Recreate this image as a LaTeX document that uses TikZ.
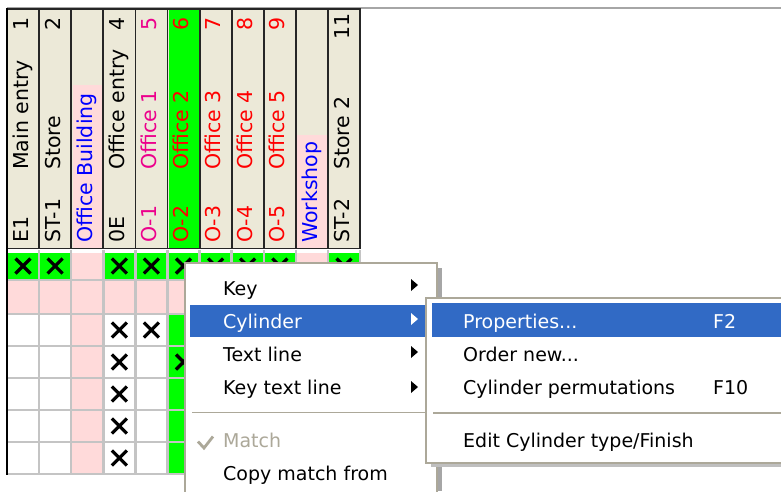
\documentclass[tikz,border=0pt]{standalone}
\usepackage{fontspec}
\setmainfont{DejaVu Sans}
\usetikzlibrary{positioning}

\definecolor{hdrbeige}{HTML}{ECE9D8}
\definecolor{cellgreen}{HTML}{00FF00}
\definecolor{cellpink}{HTML}{FFDADA}
\definecolor{gridgray}{HTML}{C4C4C4}
\definecolor{menublue}{HTML}{316AC5}
\definecolor{menuframe}{HTML}{ACA899}
\definecolor{disgray}{HTML}{ACA899}

\newcommand{\hdrfont}{\fontsize{20.5}{24}\selectfont}
\newcommand{\menufont}{\fontsize{19}{22}\selectfont}

\begin{document}
\begin{tikzpicture}
	\begin{scope}[x=1pt, y=-1pt]
		\tikzstyle{every node}=[inner sep=0pt]
		\tikzstyle{hdr}=[rotate=90, text height=0.72em, text depth=0.2em, font=\hdrfont]
		\tikzstyle{item}=[anchor=base west, font=\menufont]
		\tikzstyle{xmark}=[line width=3.2pt]
		\tikzstyle{grid}=[gridgray, line width=2.5pt]
		\tikzstyle{menubox}=[fill=white, draw=menuframe, line width=1.5pt]

		\useasboundingbox (0,0) rectangle (781,491);
		\fill[white] (0,0) rectangle (781,491);

		% header row
		\draw[gray!70, line width=2pt] (7,8) -- (781,8);
		\foreach \k in {0,...,10} {
			\filldraw[fill=hdrbeige, draw=black!85, line width=1.8pt] ({7+32.1*\k},9) rectangle ({7+32.1*(\k+1)},248.5);
		}
		\fill[cellgreen] (168.8,10) rectangle (198.6,247.6);
		\fill[cellpink] (72.5,85) rectangle (102.3,247.6);
		\fill[cellpink] (297.2,135) rectangle (327,247.6);

		\node[hdr, anchor=west] (e1)    at (25.5,243)  {E1};
		\node[hdr, anchor=west] (main)  at (25.5,170)  {Main entry};
		\node[hdr, anchor=east] (n1)    at (25.5,17)   {1};

		\node[hdr, anchor=west] (st1)   at (57.6,243) {ST-1};
		\node[hdr, anchor=west] (store) at (57.6,170) {Store};
		\node[hdr, anchor=east] (n2)    at (57.6,17)  {2};

		\node[hdr, anchor=west, blue] (ob) at (89.7,243) {Office Building};

		\node[hdr, anchor=west] (oe)    at (121.8,243) {0E};
		\node[hdr, anchor=west] (oentr) at (121.8,170) {Office entry};
		\node[hdr, anchor=east] (n4)    at (121.8,17)  {4};

		\node[hdr, anchor=west, magenta] (o1)   at (153.9,243) {O-1};
		\node[hdr, anchor=west, magenta] (off1) at (153.9,170) {Office 1};
		\node[hdr, anchor=east, magenta] (n5)   at (153.9,17)  {5};

		\node[hdr, anchor=west, red] (o2)   at (186,243) {O-2};
		\node[hdr, anchor=west, red] (off2) at (186,170) {Office 2};
		\node[hdr, anchor=east, red] (n6)   at (186,17)  {6};

		\node[hdr, anchor=west, red] (o3)   at (218.1,243) {O-3};
		\node[hdr, anchor=west, red] (off3) at (218.1,170) {Office 3};
		\node[hdr, anchor=east, red] (n7)   at (218.1,17)  {7};

		\node[hdr, anchor=west, red] (o4)   at (250.2,243) {O-4};
		\node[hdr, anchor=west, red] (off4) at (250.2,170) {Office 4};
		\node[hdr, anchor=east, red] (n8)   at (250.2,17)  {8};

		\node[hdr, anchor=west, red] (o5)   at (282.3,243) {O-5};
		\node[hdr, anchor=west, red] (off5) at (282.3,170) {Office 5};
		\node[hdr, anchor=east, red] (n9)   at (282.3,17)  {9};

		\node[hdr, anchor=west, blue] (ws) at (314.4,243) {Workshop};

		\node[hdr, anchor=west] (st2)    at (346.5,243) {ST-2};
		\node[hdr, anchor=west] (store2) at (346.5,170) {Store 2};
		\node[hdr, anchor=east] (n11)    at (346.5,13)  {11};

		% cells
		\fill[cellgreen] (7,252.5) rectangle (360,280);
		\fill[cellpink] (71.2,252.5) rectangle (103.3,280);
		\fill[cellpink] (295.9,252.5) rectangle (328,280);
		\fill[cellpink] (7,280) rectangle (360,314);
		\fill[cellpink] (71.2,314) rectangle (103.3,474);
		\fill[cellgreen] (167.5,314) rectangle (199.6,474);
		\fill[cellpink] (295.9,314) rectangle (328,474);
		\foreach \k in {1,...,11} {
			\draw[grid] ({7+32.1*\k},250) -- ({7+32.1*\k},474);
		}
		\foreach \y in {280,314,346,378,410,442,474} {
			\draw[grid] (7,\y) -- (360,\y);
		}
		\draw[black, line width=2pt] (7,8) -- (7,475);

		\foreach \cx/\cy in {23/266, 55.1/266, 119.3/266, 151.4/266, 183.5/266, 215.6/266,
		                     247.7/266, 279.8/266, 344/266, 119.3/330, 151.4/330, 119.3/362,
		                     183.5/362, 119.3/394, 119.3/426, 119.3/458} {
			\draw[xmark] ({\cx-7.5},{\cy-7.5}) -- ({\cx+7.5},{\cy+7.5})
			             ({\cx-7.5},{\cy+7.5}) -- ({\cx+7.5},{\cy-7.5});
		}

		% context menu
		\fill[black!35] (437,268) rectangle (441.5,491);
		\filldraw[menubox] (185,263) rectangle (437,500);
		\fill[menublue] (190,305) rectangle (432,337);
		\draw[menuframe, line width=1.5pt] (192,412.5) -- (430,412.5);

		\node[item] (key)     at (223,295) {Key};
		\node[item, white] (cyl) at (223,328) {Cylinder};
		\node[item] (txtline) at (223,361) {Text line};
		\node[item] (keytxt)  at (223,394) {Key text line};
		\node[item, disgray] (match) at (223,447) {Match};
		\node[item] (copy)    at (223,480) {Copy match from};

		\draw[disgray, line width=2.8pt] (198,441.5) -- (204,448) -- (213,436.5);
		\fill (411,279) -- (418,285) -- (411,291) -- cycle;
		\fill[white] (411,313) -- (418,319) -- (411,325) -- cycle;
		\fill (411,346) -- (418,352) -- (411,358) -- cycle;
		\fill (411,381) -- (418,387) -- (411,393) -- cycle;

		% submenu
		\fill[black!25] (431,463) rectangle (790,467);
		\filldraw[menubox] (426,298) rectangle (790,463);
		\fill[menublue] (432,303) rectangle (790,337);
		\draw[menuframe, line width=1.5pt] (433,413) -- (790,413);

		\node[item, white] (props) at (463,328) {Properties...};
		\node[item, white] (f2)    at (713,328) {F2};
		\node[item] (order)  at (463,361) {Order new...};
		\node[item] (perm)   at (463,394) {Cylinder permutations};
		\node[item] (f10)    at (713,394) {F10};
		\node[item] (edit)   at (463,447) {Edit Cylinder type/Finish};
	\end{scope}
\end{tikzpicture}
\end{document}
